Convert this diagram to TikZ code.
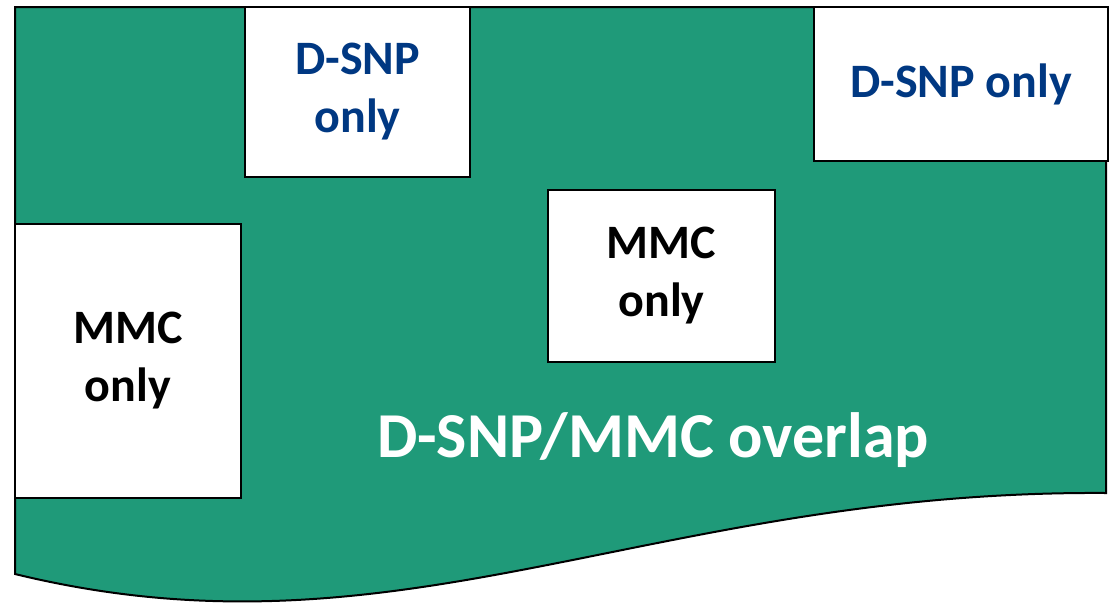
\documentclass[tikz,border=0pt]{standalone}
\usepackage{fontspec}
\setmainfont{Carlito}
\definecolor{overlapgreen}{RGB}{31,154,121}
\definecolor{snpblue}{RGB}{0,56,130}
\tikzset{
  region/.style={fill=overlapgreen, draw=black, line width=2pt, line join=miter},
  onlybox/.style={rectangle, fill=white, draw=black, line width=2pt, inner sep=0pt,
    align=center, font=\bfseries\fontsize{48}{58}\selectfont},
  snptext/.style={text=snpblue},
  mmctext/.style={text=black},
}
\begin{document}
\begin{tikzpicture}[x=1pt, y=-1pt]
  \useasboundingbox (0,0) rectangle (1109,606);
  % shared D-SNP/MMC population, document shape with a wavy lower edge
  \draw[region] (15,7) -- (1106,7) -- (1106,493)
    .. controls (650,490) and (400,668) .. (15,574) -- cycle;
  % single-programme groups
  \node[onlybox, snptext, minimum width=225pt, minimum height=170pt] (snpA) at (357.5,91.5) {D-SNP\\only};
  \node[onlybox, snptext, minimum width=294pt, minimum height=154pt] (snpB) at (961,84) {D-SNP only};
  \node[onlybox, mmctext, minimum width=227pt, minimum height=172pt] (mmcA) at (661.5,276) {MMC\\only};
  \node[onlybox, mmctext, minimum width=226pt, minimum height=274pt] (mmcB) at (128,361) {MMC\\only};
  % overlap label
  \node[text=white, font=\bfseries\fontsize{64}{72}\selectfont, inner sep=0pt] (overlap) at (653,440) {D-SNP/MMC overlap};
\end{tikzpicture}
\end{document}
